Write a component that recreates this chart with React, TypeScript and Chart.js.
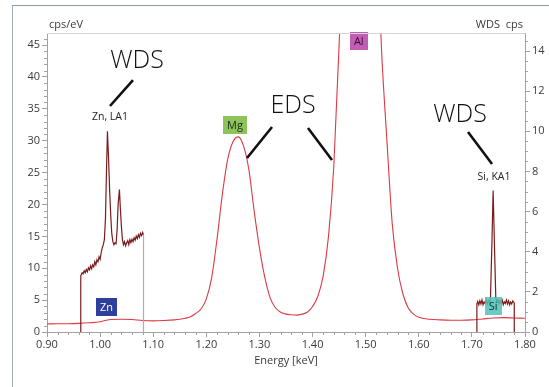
import React, { useEffect, useRef } from "react";
import { Chart, registerables } from "chart.js";

Chart.register(...registerables);

// ---- EDS spectrum (cps/eV, left axis)
const edsEnergy = [
  0.9, 0.92, 0.94, 0.96, 0.98, 1.0, 1.01, 1.02, 1.04, 1.06, 1.08, 1.1, 1.12, 1.14, 1.15, 1.16,
  1.17, 1.18, 1.19, 1.2, 1.21, 1.22, 1.23, 1.24, 1.25, 1.26, 1.27, 1.28, 1.29, 1.3, 1.31, 1.32,
  1.33, 1.34, 1.35, 1.36, 1.37, 1.38, 1.39, 1.4, 1.41, 1.42, 1.43, 1.44, 1.45, 1.46, 1.47, 1.48,
  1.49, 1.5, 1.51, 1.52, 1.53, 1.54, 1.55, 1.56, 1.57, 1.58, 1.59, 1.6, 1.62, 1.64, 1.66, 1.68,
  1.7, 1.72, 1.74, 1.76, 1.78, 1.8,
];
const edsCounts = [
  1.25, 1.3, 1.3, 1.35, 1.45, 1.6, 1.8, 1.95, 2.0, 1.95, 1.8, 1.75, 1.8, 1.9, 2.0, 2.15,
  2.4, 2.9, 3.6, 5.2, 8.5, 14.5, 21.5, 27, 29.8, 30.6, 29.2, 25.5, 19, 13.2, 8.6, 5.4,
  3.8, 3.1, 2.8, 2.7, 2.65, 2.8, 3.1, 4.0, 5.6, 8.8, 15, 26, 45, 68, 95, 115,
  120, 110, 88, 64, 44, 30, 17, 10, 6, 3.8, 2.8, 2.3, 2.0, 1.9, 1.85, 1.85,
  1.9, 2.05, 2.2, 2.25, 2.2, 2.15,
];

// ---- WDS scan Zn LA1 (cps, right axis)
const znEnergy = [
  0.9636, 0.9636, 0.966, 0.968, 0.97, 0.972, 0.974, 0.976, 0.978, 0.98, 0.982, 0.984, 0.986,
  0.988, 0.99, 0.992, 0.994, 0.996, 0.998, 1.0, 1.002, 1.004, 1.006, 1.008, 1.01, 1.012, 1.0138,
  1.016, 1.018, 1.02, 1.022, 1.024, 1.026, 1.028, 1.03, 1.032, 1.034, 1.0364, 1.038, 1.04, 1.042,
  1.044, 1.046, 1.048, 1.05, 1.052, 1.054, 1.056, 1.058, 1.06, 1.062, 1.064, 1.066, 1.068, 1.07,
  1.072, 1.074, 1.076, 1.078, 1.08, 1.0817, 1.0817,
];
const znCps = [
  0, 2.8, 2.95, 2.9, 3.05, 2.95, 3.12, 3.0, 3.2, 3.1, 3.3, 3.15, 3.35,
  3.25, 3.5, 3.35, 3.6, 3.5, 3.75, 3.62, 3.95, 4.2, 4.35, 4.6, 5.6, 8.0, 10.0,
  8.6, 7.0, 5.8, 4.9, 4.5, 4.35, 4.45, 4.4, 5.1, 6.4, 7.1, 6.2, 5.3, 4.6,
  4.35, 4.5, 4.3, 4.45, 4.55, 4.35, 4.6, 4.45, 4.62, 4.5, 4.7, 4.58, 4.78, 4.65,
  4.85, 4.72, 4.92, 4.8, 4.96, 4.85, 0,
];

// ---- WDS scan Si KA1 (cps, right axis)
const siEnergy = [
  1.7094, 1.7094, 1.711, 1.713, 1.715, 1.717, 1.719, 1.721, 1.723, 1.725, 1.727, 1.729, 1.731,
  1.733, 1.735, 1.7375, 1.74, 1.7425, 1.745, 1.747, 1.749, 1.751, 1.753, 1.755, 1.757, 1.759,
  1.761, 1.763, 1.765, 1.767, 1.769, 1.771, 1.773, 1.775, 1.777, 1.7798, 1.7798,
];
const siCps = [
  0, 1.4, 1.52, 1.35, 1.55, 1.4, 1.6, 1.35, 1.5, 1.42, 1.6, 1.4, 1.55,
  1.5, 1.7, 4.2, 7.05, 4.3, 1.7, 1.5, 1.6, 1.4, 1.55, 1.45, 1.6, 1.35,
  1.5, 1.42, 1.6, 1.4, 1.55, 1.35, 1.5, 1.4, 1.55, 1.45, 0,
];

// ---- axis ticks
const xTickValues = [0.9, 1.0, 1.1, 1.2, 1.3, 1.4, 1.5, 1.6, 1.7, 1.8];
const leftTickValues = [0, 5, 10, 15, 20, 25, 30, 35, 40, 45];
const rightTickValues = [0, 2, 4, 6, 8, 10, 12, 14];

// ---- element markers (energy keV, box centre in cps/eV)
const elementNames = ["Zn", "Mg", "Al", "Si"];
const elementEnergy = [1.012, 1.254, 1.487, 1.74];
const elementLevel = [3.9, 32.4, 45.6, 4.1];
const elementFill = ["#2f3f9c", "#8dc35b", "#c25db4", "rgba(80,194,184,0.85)"];
const elementText = ["#ffffff", "#1f2a10", "#3a0a35", "#10302d"];

// ---- callout annotations (data coordinates: keV, cps/eV)
const bigLabels = [
  { text: "WDS", x: 1.0695, y: 42.5 },
  { text: "EDS", x: 1.3632, y: 35.4 },
  { text: "WDS", x: 1.6776, y: 34.0 },
];
const smallLabels = [
  { text: "Zn, LA1", x: 1.0186, y: 33.7 },
  { text: "Si, KA1", x: 1.7417, y: 24.3 },
];
const calloutLines = [
  [1.0619, 39.5, 1.0186, 35.45],
  [1.3237, 32.16, 1.2766, 27.29],
  [1.3914, 32.0, 1.4366, 26.98],
  [1.6927, 31.37, 1.7379, 26.35],
];

const FONT = "'Open Sans', 'DejaVu Sans', sans-serif";
const AXIS_GRAY = "#a3a3a3";
const TEXT = "#3a3a3a";

const decorPlugin = {
  id: "decor",
  afterDatasetsDraw(chart: any) {
    const { ctx, scales } = chart;
    const x = scales.x;
    const y = scales.y;
    ctx.save();
    ctx.strokeStyle = "#111";
    ctx.lineWidth = 2.6;
    ctx.lineCap = "butt";
    calloutLines.forEach((l) => {
      ctx.beginPath();
      ctx.moveTo(x.getPixelForValue(l[0]), y.getPixelForValue(l[1]));
      ctx.lineTo(x.getPixelForValue(l[2]), y.getPixelForValue(l[3]));
      ctx.stroke();
    });
    ctx.textAlign = "center";
    ctx.textBaseline = "middle";
    ctx.fillStyle = "#111";
    ctx.font = `300 25px ${FONT}`;
    bigLabels.forEach((b) => ctx.fillText(b.text, x.getPixelForValue(b.x), y.getPixelForValue(b.y)));
    ctx.font = `10.5px ${FONT}`;
    ctx.fillStyle = "#222";
    smallLabels.forEach((b) => ctx.fillText(b.text, x.getPixelForValue(b.x), y.getPixelForValue(b.y)));
    ctx.font = `11px ${FONT}`;
    elementNames.forEach((name, i) => {
      const cx = x.getPixelForValue(elementEnergy[i]);
      const cy = y.getPixelForValue(elementLevel[i]);
      const w = Math.max(ctx.measureText(name).width + 8, 17);
      const h = 18;
      ctx.fillStyle = elementFill[i];
      ctx.fillRect(Math.round(cx - w / 2), Math.round(cy - h / 2), Math.round(w), h);
      ctx.fillStyle = elementText[i];
      ctx.fillText(name, cx, cy + 0.5);
    });
    ctx.restore();
  },
  afterDraw(chart: any) {
    const { ctx, scales, chartArea } = chart;
    const x = scales.x;
    const y = scales.y;
    const y1 = scales.y1;
    ctx.save();
    ctx.strokeStyle = "#d6d6d6";
    ctx.lineWidth = 1;
    ctx.beginPath();
    ctx.moveTo(chartArea.left, Math.round(chartArea.top) + 0.5);
    ctx.lineTo(chartArea.right, Math.round(chartArea.top) + 0.5);
    ctx.stroke();
    ctx.strokeStyle = AXIS_GRAY;
    ctx.beginPath();
    for (let i = 1; i < 45; i++) {
      if (i % 5 === 0) continue;
      const px = Math.round(x.getPixelForValue(0.9 + i * 0.02)) + 0.5;
      ctx.moveTo(px, chartArea.bottom);
      ctx.lineTo(px, chartArea.bottom + 3);
    }
    for (let v = 1; v <= 46; v++) {
      if (v % 5 === 0) continue;
      const py = Math.round(y.getPixelForValue(v)) + 0.5;
      ctx.moveTo(chartArea.left - 3, py);
      ctx.lineTo(chartArea.left, py);
    }
    for (let k = 1; k <= 29; k++) {
      if (k % 4 === 0) continue;
      const py = Math.round(y1.getPixelForValue(k * 0.5)) + 0.5;
      ctx.moveTo(chartArea.right, py);
      ctx.lineTo(chartArea.right + 3, py);
    }
    ctx.stroke();
    ctx.fillStyle = TEXT;
    ctx.font = `11px ${FONT}`;
    ctx.textBaseline = "middle";
    ctx.textAlign = "left";
    ctx.fillText("cps/eV", chartArea.left + 2, chartArea.top - 8);
    ctx.textAlign = "right";
    ctx.fillText("WDS  cps", chartArea.right - 2, chartArea.top - 8);
    ctx.restore();
  },
};

export default function App() {
  const ref = useRef<HTMLCanvasElement>(null);

  useEffect(() => {
    if (!ref.current) return;
    const tickFont = { family: FONT, size: 11 };
    const lastZn = znEnergy.length - 2;
    const chart = new Chart(ref.current, {
      type: "line",
      data: {
        datasets: [
          {
            label: "Zn WDS",
            data: znEnergy.map((e, i) => ({ x: e, y: znCps[i] })),
            yAxisID: "y1",
            borderColor: "#7a1c1c",
            borderWidth: 1.2,
            pointRadius: 0,
            tension: 0,
            order: 1,
            segment: {
              borderColor: (c: any) => (c.p0DataIndex === lastZn ? "#c9a3a3" : undefined),
            },
          },
          {
            label: "Si WDS",
            data: siEnergy.map((e, i) => ({ x: e, y: siCps[i] })),
            yAxisID: "y1",
            borderColor: "#7a1c1c",
            borderWidth: 1.2,
            pointRadius: 0,
            tension: 0,
            order: 1,
          },
          {
            label: "EDS",
            data: edsEnergy.map((e, i) => ({ x: e, y: edsCounts[i] })),
            yAxisID: "y",
            borderColor: "#dc3a44",
            borderWidth: 1.1,
            pointRadius: 0,
            cubicInterpolationMode: "monotone",
            order: 2,
          },
        ],
      },
      options: {
        animation: false,
        responsive: false,
        maintainAspectRatio: false,
        layout: { padding: { top: 33, left: 0, right: 0, bottom: 20 } },
        plugins: { legend: { display: false }, tooltip: { enabled: false } },
        scales: {
          x: {
            type: "linear",
            min: 0.9,
            max: 1.8,
            afterBuildTicks: (s: any) => {
              s.ticks = xTickValues.map((v) => ({ value: v }));
            },
            afterFit: (s: any) => {
              s.height = 35;
            },
            ticks: {
              font: tickFont,
              color: TEXT,
              padding: 1,
              maxRotation: 0,
              autoSkip: false,
              callback: (v: any) => Number(v).toFixed(2),
            },
            grid: { drawOnChartArea: false, drawTicks: true, tickLength: 5, color: AXIS_GRAY },
            border: { color: AXIS_GRAY },
            title: {
              display: true,
              text: "Energy [keV]",
              font: { family: FONT, size: 11 },
              color: TEXT,
              padding: { top: 2, bottom: 0 },
            },
          },
          y: {
            position: "left",
            min: 0,
            max: 46.9,
            afterBuildTicks: (s: any) => {
              s.ticks = leftTickValues.map((v) => ({ value: v }));
            },
            afterFit: (s: any) => {
              s.width = 47;
            },
            ticks: { font: tickFont, color: TEXT, padding: 2, autoSkip: false },
            grid: { drawOnChartArea: false, drawTicks: true, tickLength: 5, color: AXIS_GRAY },
            border: { color: AXIS_GRAY },
          },
          y1: {
            position: "right",
            min: 0,
            max: 14.9,
            afterBuildTicks: (s: any) => {
              s.ticks = rightTickValues.map((v) => ({ value: v }));
            },
            afterFit: (s: any) => {
              s.width = 24;
            },
            ticks: { font: tickFont, color: TEXT, padding: 2, autoSkip: false },
            grid: { drawOnChartArea: false, drawTicks: true, tickLength: 5, color: AXIS_GRAY },
            border: { color: AXIS_GRAY },
          },
        },
      } as any,
      plugins: [decorPlugin],
    });
    return () => chart.destroy();
  }, []);

  return (
    <div style={{ position: "absolute", left: 0, top: 0, width: 549, height: 387, background: "#fff" }}>
      <div
        style={{
          position: "absolute",
          left: 12,
          top: 5,
          width: 560,
          height: 400,
          borderLeft: "1px solid #9eabb8",
          borderTop: "1px solid #8e99a4",
        }}
      />
      <canvas ref={ref} width={549} height={387} style={{ position: "absolute", left: 0, top: 0 }} />
    </div>
  );
}
